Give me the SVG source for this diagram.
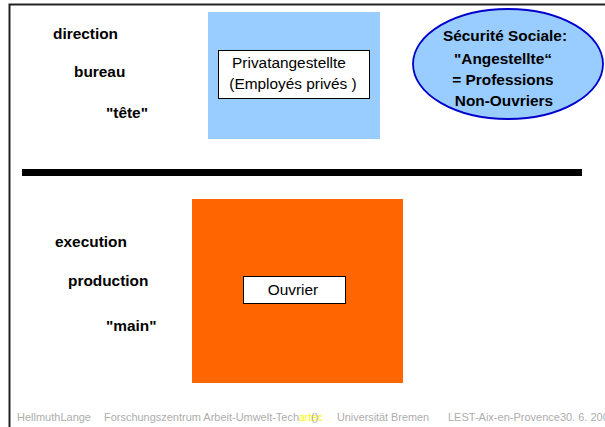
<svg xmlns="http://www.w3.org/2000/svg" width="605" height="427" viewBox="0 0 605 427">
<style>
.lbl{font-family:"Liberation Sans",Arial,sans-serif;font-size:15.4px;font-weight:bold;fill:#000}
.box{fill:#fff;stroke:#000;stroke-width:1}
.bt{font-family:"Liberation Sans",Arial,sans-serif;font-size:15.4px;fill:#000;text-anchor:middle}
.el{font-family:"Liberation Sans",Arial,sans-serif;font-size:15.4px;font-weight:bold;fill:#000;text-anchor:middle}
.ft{font-family:"Liberation Sans",Arial,sans-serif;font-size:11px;fill:#adadad}
</style>
<rect width="605" height="427" fill="#fff"/>
<path d="M9.5,427 V4.5 H605" fill="none" stroke="#222" stroke-width="2"/>
<g id="labels-top">
<text class="lbl" x="53" y="39">direction</text>
<text class="lbl" x="74" y="77">bureau</text>
<text class="lbl" x="106" y="118">"tête"</text>
</g>
<g id="privat">
<rect x="208" y="12" width="172" height="127" fill="#99ccff"/>
<rect class="box" x="218.5" y="50.5" width="151" height="48"/>
<text class="bt" x="289" y="68">Privatangestellte</text>
<text class="bt" x="293" y="89">(Employés privés  )</text>
</g>
<g id="securite">
<ellipse cx="508" cy="64" rx="95" ry="55" fill="#99ccff" stroke="#0000cc" stroke-width="1.8"/>
<text class="el" x="505" y="41">Sécurité Sociale:</text>
<text class="el" x="503" y="64">"Angestellte“</text>
<text class="el" x="503" y="85">= Professions</text>
<text class="el" x="504" y="106">Non-Ouvriers</text>
</g>
<g id="connectors">
<rect x="22" y="169" width="560" height="7" fill="#000"/>
</g>
<g id="labels-bottom">
<text class="lbl" x="55" y="247">execution</text>
<text class="lbl" x="68" y="286">production</text>
<text class="lbl" x="106" y="331">"main"</text>
</g>
<g id="ouvrier">
<rect x="192" y="199" width="211" height="184" fill="#ff6600"/>
<rect class="box" x="243.5" y="276.5" width="102" height="27"/>
<text class="bt" x="293" y="295">Ouvrier</text>
</g>
<g id="footer">
<text class="ft" x="17" y="421" textLength="74" lengthAdjust="spacingAndGlyphs">HellmuthLange</text>
<text class="ft" x="104" y="421"><tspan textLength="195" lengthAdjust="spacingAndGlyphs">Forschungszentrum Arbeit-Umwelt-Tech</tspan><tspan style="fill:#ffff00" textLength="24" lengthAdjust="spacingAndGlyphs">artec</tspan><tspan dx="-12">()</tspan></text>
<text class="ft" x="337" y="421" textLength="92" lengthAdjust="spacingAndGlyphs">Universität Bremen</text>
<text class="ft" x="448" y="421">LEST-Aix-en-Provence30. 6. 2000</text>
</g>
</svg>
